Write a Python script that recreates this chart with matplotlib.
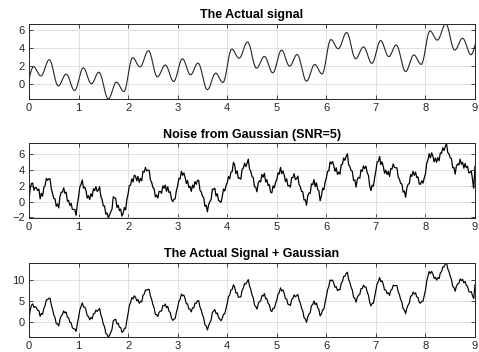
import matplotlib
matplotlib.use("Agg")
import matplotlib.pyplot as plt
import numpy as np

# sample spacing 0.025 s, from 0 to 9 s
T_START, T_END = 0.0, 9.0

# the clean signal
signal = [
    0.40, 1.08, 1.58, 1.87, 1.91, 1.79, 1.56, 1.29, 1.05, 0.91,
    0.90, 1.06, 1.39, 1.79, 2.19, 2.52, 2.68, 2.65, 2.36, 1.86,
    1.24, 0.62, 0.12, -0.17, -0.21, -0.07, 0.19, 0.51, 0.81, 1.03,
    1.11, 1.01, 0.74, 0.36, -0.06, -0.43, -0.67, -0.72, -0.55, -0.16,
    0.37, 0.93, 1.41, 1.72, 1.80, 1.66, 1.35, 0.95, 0.53, 0.20,
    0.03, 0.04, 0.23, 0.53, 0.87, 1.15, 1.31, 1.27, 1.01, 0.54,
    -0.04, -0.64, -1.16, -1.52, -1.64, -1.54, -1.25, -0.84, -0.41, -0.04,
    0.18, 0.21, 0.08, -0.15, -0.43, -0.67, -0.82, -0.82, -0.49, 0.14,
    0.95, 1.77, 2.45, 2.85, 2.91, 2.79, 2.56, 2.29, 2.05, 1.91,
    1.90, 2.06, 2.39, 2.79, 3.19, 3.52, 3.68, 3.65, 3.36, 2.86,
    2.24, 1.62, 1.12, 0.83, 0.79, 0.93, 1.19, 1.51, 1.81, 2.03,
    2.11, 2.01, 1.74, 1.36, 0.94, 0.57, 0.33, 0.28, 0.45, 0.84,
    1.37, 1.93, 2.41, 2.72, 2.80, 2.66, 2.35, 1.95, 1.53, 1.20,
    1.03, 1.04, 1.23, 1.53, 1.87, 2.15, 2.31, 2.27, 2.01, 1.54,
    0.96, 0.36, -0.16, -0.52, -0.64, -0.54, -0.25, 0.16, 0.59, 0.96,
    1.18, 1.21, 1.08, 0.85, 0.57, 0.33, 0.18, 0.18, 0.51, 1.13,
    1.93, 2.74, 3.41, 3.80, 3.86, 3.74, 3.51, 3.24, 3.00, 2.86,
    2.85, 3.01, 3.34, 3.74, 4.14, 4.47, 4.63, 4.60, 4.31, 3.81,
    3.19, 2.57, 2.07, 1.78, 1.74, 1.88, 2.14, 2.46, 2.76, 2.98,
    3.06, 2.96, 2.69, 2.31, 1.89, 1.52, 1.28, 1.23, 1.40, 1.79,
    2.32, 2.88, 3.36, 3.67, 3.75, 3.61, 3.30, 2.90, 2.48, 2.15,
    1.98, 1.99, 2.18, 2.48, 2.82, 3.10, 3.26, 3.22, 2.96, 2.49,
    1.91, 1.31, 0.79, 0.43, 0.31, 0.41, 0.70, 1.11, 1.54, 1.91,
    2.13, 2.16, 2.03, 1.80, 1.52, 1.28, 1.13, 1.13, 1.47, 2.10,
    2.93, 3.76, 4.45, 4.85, 4.91, 4.79, 4.56, 4.29, 4.05, 3.91,
    3.90, 4.06, 4.39, 4.79, 5.19, 5.52, 5.68, 5.65, 5.36, 4.86,
    4.24, 3.62, 3.12, 2.83, 2.79, 2.93, 3.19, 3.51, 3.81, 4.03,
    4.11, 4.01, 3.74, 3.36, 2.94, 2.57, 2.33, 2.28, 2.45, 2.84,
    3.37, 3.93, 4.41, 4.72, 4.80, 4.66, 4.35, 3.95, 3.53, 3.20,
    3.03, 3.04, 3.23, 3.53, 3.87, 4.15, 4.31, 4.27, 4.01, 3.54,
    2.96, 2.36, 1.84, 1.48, 1.36, 1.46, 1.75, 2.16, 2.59, 2.96,
    3.18, 3.21, 3.08, 2.85, 2.57, 2.33, 2.18, 2.18, 2.51, 3.13,
    3.93, 4.74, 5.41, 5.80, 5.86, 5.74, 5.51, 5.24, 5.00, 4.86,
    4.85, 5.01, 5.34, 5.74, 6.14, 6.47, 6.63, 6.60, 6.31, 5.81,
    5.19, 4.57, 4.07, 3.78, 3.74, 3.88, 4.14, 4.46, 4.76, 4.98,
    5.06, 4.96, 4.69, 4.31, 3.89, 3.52, 3.28, 3.23, 3.40, 3.79,
    4.32,
]

# the noisy trace
noise = [
    0.08, 1.75, 2.30, 2.35, 1.45, 1.80, 1.75, 1.41, 1.60, 0.35,
    1.05, 0.70, 1.80, 2.05, 2.95, 2.70, 2.90, 2.90, 1.65, 1.05,
    0.40, 0.35, -0.60, -0.30, -0.80, 0.65, 1.20, 1.20, 1.75, 1.05,
    1.20, 0.05, 0.15, -0.50, -0.20, -1.00, -1.00, -1.00, -1.75, -0.35,
    0.60, 1.85, 2.20, 2.75, 1.70, 1.85, 1.40, 0.45, 0.75, 0.25,
    1.00, 0.65, 1.64, 1.40, 1.90, 1.30, 1.45, 1.90, 0.65, 0.25,
    -0.55, -0.55, -1.60, -1.45, -2.05, -1.70, -1.30, -0.95, 0.60, 0.50,
    0.40, -0.75, -0.46, -1.15, -0.95, -1.85, -1.50, -0.75, -1.05, 0.25,
    1.00, 2.05, 2.10, 2.90, 2.50, 3.35, 3.25, 2.65, 3.20, 2.45,
    2.95, 2.65, 3.85, 3.75, 4.35, 3.90, 4.00, 4.00, 2.75, 2.45,
    1.80, 1.65, 0.60, 0.85, 0.45, 1.30, 1.30, 1.05, 2.00, 1.70,
    2.10, 1.30, 1.90, 1.15, 1.25, 0.30, 0.00, 0.30, 0.35, 1.45,
    2.00, 2.95, 2.90, 3.85, 3.35, 3.65, 3.10, 2.30, 2.70, 1.80,
    1.95, 1.30, 2.10, 1.75, 2.55, 2.20, 2.70, 2.70, 1.45, 1.25,
    0.70, 0.50, -0.60, -0.45, -1.30, -0.35, 0.00, 0.25, 1.60, 1.55,
    1.70, 0.70, 1.00, 0.15, 0.05, -0.10, 0.65, 1.60, 1.35, 2.00,
    2.40, 3.20, 2.90, 3.75, 3.80, 5.00, 4.70, 3.55, 3.90, 2.95,
    3.00, 2.85, 4.10, 4.25, 4.90, 4.45, 4.85, 5.40, 4.15, 3.85,
    3.20, 3.05, 1.90, 1.85, 1.25, 2.35, 2.65, 2.50, 3.45, 3.10,
    3.60, 2.50, 2.80, 2.05, 2.15, 1.20, 1.10, 2.00, 1.75, 2.45,
    2.80, 3.65, 3.50, 4.35, 3.55, 3.90, 3.40, 2.55, 2.90, 2.00,
    2.05, 1.85, 3.05, 3.05, 3.55, 2.80, 2.90, 3.25, 2.15, 1.90,
    1.30, 1.25, 0.20, 0.25, -0.45, 0.75, 1.10, 1.05, 2.25, 2.15,
    2.80, 1.90, 2.40, 1.55, 1.35, 0.10, 0.70, 1.70, 1.50, 2.45,
    3.00, 3.85, 3.90, 5.05, 4.80, 5.10, 4.60, 3.85, 4.30, 3.45,
    3.75, 3.50, 4.70, 4.75, 5.55, 5.25, 5.75, 6.10, 4.70, 4.45,
    3.95, 3.85, 2.70, 2.75, 1.85, 2.85, 3.10, 2.95, 4.05, 3.85,
    4.55, 4.20, 4.50, 3.65, 3.35, 2.00, 1.40, 2.10, 1.95, 3.05,
    3.90, 5.05, 5.10, 5.75, 4.70, 5.05, 4.45, 3.60, 4.00, 3.45,
    3.85, 3.20, 4.20, 4.15, 4.80, 4.35, 4.30, 4.30, 3.10, 2.85,
    2.30, 2.25, 1.20, 1.35, 0.55, 1.75, 2.20, 2.30, 3.45, 3.20,
    3.85, 3.35, 3.75, 3.05, 3.15, 2.25, 2.20, 2.65, 2.35, 3.00,
    3.50, 4.85, 5.30, 6.10, 5.55, 6.20, 5.80, 5.05, 5.55, 5.00,
    5.60, 5.20, 6.20, 6.15, 6.85, 6.50, 7.00, 7.40, 6.25, 6.05,
    5.60, 5.45, 4.30, 4.35, 3.50, 4.55, 4.80, 4.65, 5.40, 4.75,
    5.00, 4.25, 4.85, 4.30, 4.50, 3.65, 3.70, 3.90, 2.75, 1.70,
    4.50,
]

titles = ["The Actual signal", "Noise from Gaussian (SNR=5)", "The Actual Signal + Gaussian"]
x_ticks = [0, 1, 2, 3, 4, 5, 6, 7, 8, 9]
y_ticks = [[0, 2, 4, 6], [-2, 0, 2, 4, 6], [0, 5, 10]]


def style_axes(ax, title, yt):
    ax.set_title(title, fontsize=9, fontweight="bold", pad=4, color="black")
    ax.set_xlim(T_START, T_END)
    ax.set_xticks(x_ticks)
    ax.set_yticks(yt)
    ax.grid(True, color="#dcdcdc", linewidth=0.6)
    ax.set_axisbelow(True)
    ax.tick_params(direction="in", length=3, width=0.6, top=True, right=True,
                   labelsize=8, colors="#262626", pad=3)
    for s in ax.spines.values():
        s.set_color("#262626")
        s.set_linewidth(0.7)


def main():
    plt.rcParams["font.family"] = ["Liberation Sans", "DejaVu Sans"]
    sig = np.array(signal)
    nse = np.array(noise)
    t = np.linspace(T_START, T_END, len(sig))
    combined = sig + nse

    fig = plt.figure(figsize=(4.79, 3.52), dpi=100)
    w = 446 / 479
    ax1 = fig.add_axes([29 / 479, 0.719, w, 0.213])
    ax2 = fig.add_axes([29 / 479, 0.3815, w, 0.211])
    ax3 = fig.add_axes([29 / 479, 0.0418, w, 0.212])

    ax1.plot(t, sig, color="#262626", linewidth=0.8)
    ax2.plot(t, nse, color="black", linewidth=0.9)
    ax3.plot(t, combined, color="black", linewidth=0.85)

    for ax, title, yt, y in zip([ax1, ax2, ax3], titles, y_ticks, [sig, nse, combined]):
        style_axes(ax, title, yt)
        ax.set_ylim(y.min(), y.max())

    fig.savefig("out.png", dpi=100)
    plt.close(fig)


if __name__ == "__main__":
    main()
